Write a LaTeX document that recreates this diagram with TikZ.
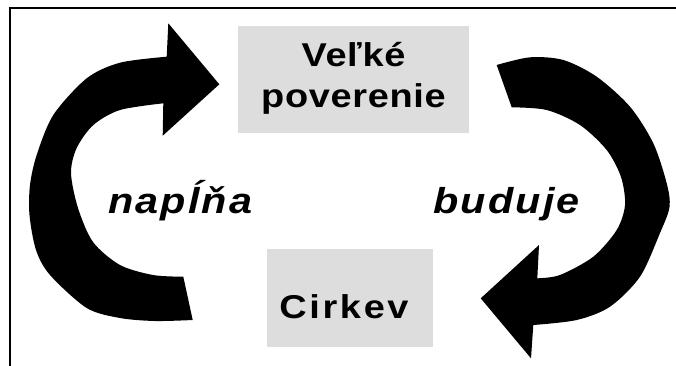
\documentclass[tikz,border=0pt]{standalone}
\usepackage{fontspec}
\setmainfont{Liberation Sans}
\newfontfamily\boxfont{Liberation Sans}[UprightFont=* Bold, FakeStretch=1.15, LetterSpace=2]
\newfontfamily\boxfontb{Liberation Sans}[UprightFont=* Bold, FakeStretch=1.15, LetterSpace=8]
\newfontfamily\labfont{Liberation Sans}[UprightFont=* Bold Italic, FakeStretch=1.15, LetterSpace=6]
\definecolor{boxgray}{RGB}{221,221,221}
\tikzset{
  graybox/.style={fill=boxgray, inner sep=0pt, align=center, font=\boxfont\fontsize{33}{40.6}\selectfont},
  looplabel/.style={inner sep=0pt, anchor=base west, font=\labfont\fontsize{36}{40}\selectfont},
  bigarrow/.style={fill=black},
  frame/.style={draw=black, line width=2.2pt}
}
\begin{document}
\begin{tikzpicture}[x=1pt,y=-1pt]
\useasboundingbox (0,0) rectangle (676,365);
\clip (0,0) rectangle (676,365);
% frame (top and left sides visible)
\coordinate (fbl) at (10,380);
\coordinate (ftl) at (10,7.7);
\coordinate (ftr) at (690,7.7);
\draw[frame] (fbl) -- (ftl) -- (ftr);
% boxes
\node[graybox, minimum width=231pt, minimum height=107pt, text height=55.6pt, text depth=0pt] (top) at (353.5,79.5) {Veľké\\poverenie};
\node[graybox, font=\boxfontb\fontsize{33}{40.6}\selectfont, minimum width=166pt, minimum height=98pt, text height=40.6pt, text depth=0pt] (bot) at (350,298) {Cirkev\kern12pt};
% left circular arrow
\fill[bigarrow] (183.3,276.7) -- plot[smooth] coordinates {(183.3,276.7) (153,275) (120,265) (93,242) (78,208) (71,173) (76.7,148) (93.3,125) (120,110) (163.3,103.3)}
  -- (162.7,135.7) -- (219.3,84.3) -- (168.3,23.3) -- (166.7,56.7)
  -- plot[smooth] coordinates {(166.7,56.7) (120,62.7) (86.7,78.3) (53.3,115) (36.7,155) (30,185) (29.5,215) (36,250) (50,275) (86.7,308) (120,318) (155,321) (192.7,320)} -- cycle;
% right circular arrow
\fill[bigarrow] (511.7,107.3) -- plot[smooth] coordinates {(511.7,107.3) (546.7,110) (580,125) (606.7,150) (621,177) (625,205) (616.7,230) (593.3,256.7) (560,275) (537.3,278.3)}
  -- (539,245) -- (480.7,298.3) -- (531,358.3) -- (533.3,325)
  -- plot[smooth] coordinates {(533.3,325) (576.7,320) (610,306.7) (640,276.7) (660,233) (669.5,207) (666.7,183.3) (653.3,143.3) (630,106.7) (596.7,76.7) (563.3,60) (530,57.3) (496.7,65)} -- cycle;
% labels
\node[looplabel] (l1) at (108,213) {napĺňa};
\node[looplabel] (l2) at (433,213) {buduje};
\end{tikzpicture}
\end{document}
